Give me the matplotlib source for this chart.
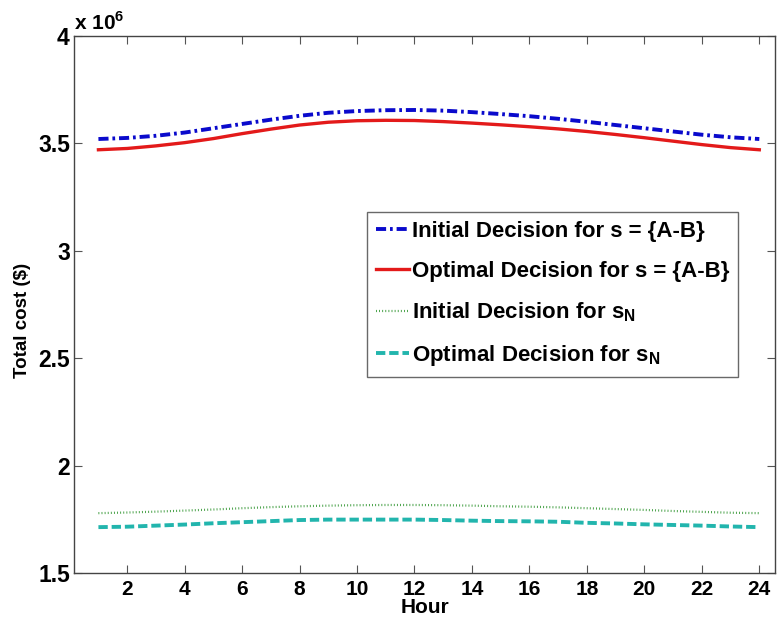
import numpy as np
import matplotlib
matplotlib.use('Agg')
import matplotlib.pyplot as plt

plt.rcParams['font.family'] = 'Liberation Sans'
plt.rcParams['font.weight'] = 'bold'
plt.rcParams['mathtext.fontset'] = 'custom'
plt.rcParams['mathtext.bf'] = 'Liberation Sans:bold'
plt.rcParams['mathtext.rm'] = 'Liberation Sans:bold'

# Total cost in units of 1e6 $
hours = np.arange(1, 25)
init_ab = [3.520, 3.525, 3.535, 3.550, 3.570, 3.590, 3.610, 3.628, 3.642, 3.650, 3.654, 3.655,
           3.652, 3.645, 3.636, 3.626, 3.614, 3.600, 3.585, 3.570, 3.555, 3.540, 3.528, 3.520]
opt_ab = [3.470, 3.476, 3.488, 3.503, 3.522, 3.545, 3.566, 3.585, 3.598, 3.605, 3.607, 3.606,
          3.601, 3.594, 3.586, 3.577, 3.567, 3.555, 3.541, 3.526, 3.510, 3.494, 3.480, 3.470]
init_sn = [1.780, 1.783, 1.787, 1.792, 1.797, 1.803, 1.808, 1.812, 1.815, 1.817, 1.818, 1.818,
           1.817, 1.815, 1.812, 1.810, 1.807, 1.803, 1.799, 1.795, 1.790, 1.786, 1.782, 1.780]
opt_sn = [1.715, 1.717, 1.722, 1.727, 1.733, 1.738, 1.743, 1.748, 1.750, 1.750, 1.750, 1.750,
          1.748, 1.745, 1.743, 1.742, 1.740, 1.735, 1.732, 1.728, 1.725, 1.722, 1.718, 1.715]

labels = ['Initial Decision for s = {A-B}',
          'Optimal Decision for s = {A-B}',
          r'Initial Decision for s$_\mathbf{N}$',
          r'Optimal Decision for s$_\mathbf{N}$']

fig = plt.figure(figsize=(7.79, 6.28), dpi=100)
ax = fig.add_axes([0.095, 0.087, 0.900, 0.856])

ax.plot(hours, init_ab, color='#0a0acc', lw=2.8, linestyle=(0, (2.6, 1.0, 0.7, 1.0)), label=labels[0])
ax.plot(hours, opt_ab, color='#e31a1a', lw=2.4, label=labels[1])
ax.plot(hours, init_sn, color='#3a9a3a', lw=1.6, linestyle=(0, (0.4, 1.0)), label=labels[2])
ax.plot(hours, opt_sn, color='#22b5ad', lw=2.8, linestyle=(0, (2.4, 1.0)), label=labels[3])

ax.set_xlim(0.15, 24.55)
ax.set_ylim(1.5, 4.0)
ax.set_xticks(np.arange(2, 25, 2))
ax.set_yticks([1.5, 2, 2.5, 3, 3.5, 4])
ax.set_yticklabels(['1.5', '2', '2.5', '3', '3.5', '4'])
ax.tick_params(direction='in', top=True, right=True, length=6, width=0.8, color='#555555')
ax.tick_params(axis='y', labelsize=16.5, pad=3)
ax.tick_params(axis='x', labelsize=15, pad=5)
for sp in ax.spines.values():
    sp.set_color('#444444')
    sp.set_linewidth(1.0)

ax.set_xlabel('Hour', fontsize=15, fontweight='bold', labelpad=-1)
ax.set_ylabel('Total cost ($)', fontsize=13.5, fontweight='bold')
ax.yaxis.set_label_coords(-0.062, 0.47)
ax.text(0.0, 1.003, r'x 10$^{6}$', transform=ax.transAxes, fontsize=15, ha='left', va='bottom')

leg = ax.legend(loc='upper left', bbox_to_anchor=(0.418, 0.672), fontsize=16, frameon=True,
                fancybox=False, handlelength=1.5, handletextpad=0.1, labelspacing=0.85,
                borderpad=0.4, borderaxespad=0)
leg.get_frame().set_edgecolor('#444444')
leg.get_frame().set_linewidth(1.0)

fig.savefig('out.png', dpi=100)
